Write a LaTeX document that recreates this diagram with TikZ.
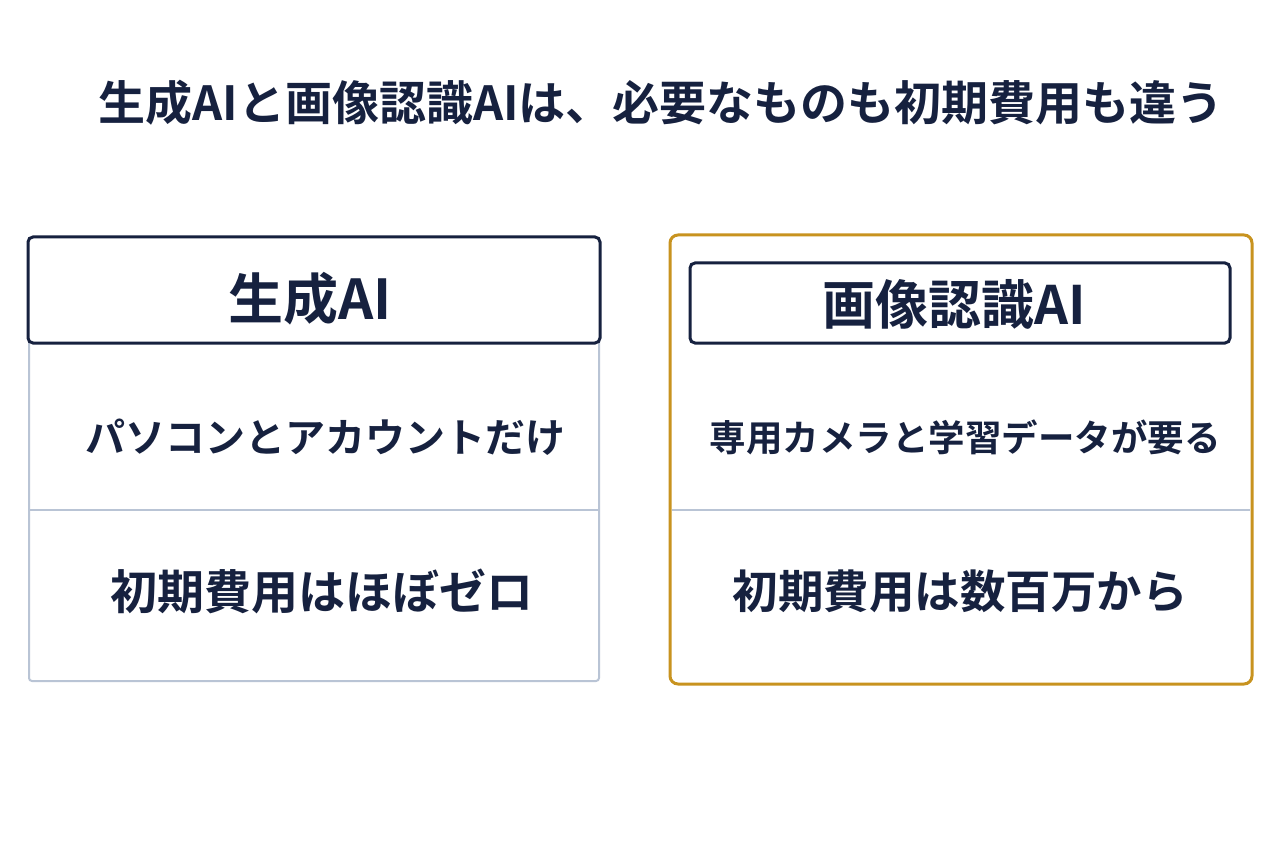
\documentclass[tikz,border=0pt]{standalone}
\usepackage{fontspec}
\setmainfont{Noto Sans CJK JP}[BoldFont={* Bold}]
\usepackage{tikz}
\usetikzlibrary{positioning}
\definecolor{navy}{HTML}{16213F}
\definecolor{pale}{HTML}{B9C4D5}
\definecolor{gold}{HTML}{C8931F}
\tikzset{
  txt/.style={text=navy,font=\bfseries,inner sep=0pt},
  head/.style={draw=navy,line width=3pt,rounded corners=5pt,fill=white},
}
\begin{document}
\begin{tikzpicture}[x=1pt,y=-1pt]
\useasboundingbox[fill=white] (0,0) rectangle (1280,853);
\node[txt,font=\bfseries\fontsize{47}{50}\selectfont] (title) at (661,103) {生成AIと画像認識AIは、必要なものも初期費用も違う};
% left column
\draw[pale,line width=2pt,rounded corners=3pt] (29,300) -- (29,681) -- (599,681) -- (599,300);
\draw[pale,line width=2pt] (29,510) -- (599,510);
\draw[head] (28,237) rectangle (600,343);
\node[txt,font=\bfseries\fontsize{55}{58}\selectfont] (genT) at (310,299) {生成AI};
\node[txt,font=\bfseries\fontsize{40}{44}\selectfont] (genA) at (325,437) {パソコンとアカウントだけ};
\node[txt,font=\bfseries\fontsize{47}{50}\selectfont] (genB) at (322,591) {初期費用はほぼゼロ};
% right column
\draw[gold,line width=3pt,rounded corners=8pt] (670,235) rectangle (1252,684);
\draw[pale,line width=2pt] (672,510) -- (1250,510);
\draw[head] (690,263) rectangle (1230,343);
\node[txt,font=\bfseries\fontsize{53}{56}\selectfont] (recT) at (954,304) {画像認識AI};
\node[txt,font=\bfseries\fontsize{36.5}{40}\selectfont] (recA) at (965,437) {専用カメラと学習データが要る};
\node[txt,font=\bfseries\fontsize{45.5}{48}\selectfont] (recB) at (960,591) {初期費用は数百万から};
\end{tikzpicture}
\end{document}
